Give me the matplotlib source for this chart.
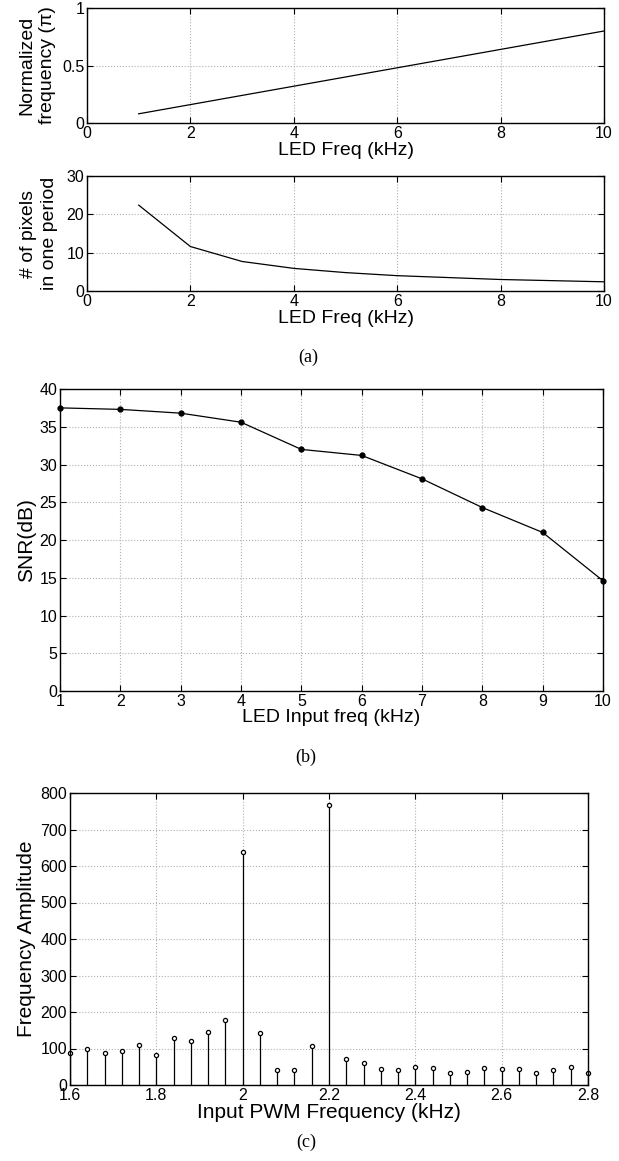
import numpy as np
import matplotlib
matplotlib.use('Agg')
import matplotlib.pyplot as plt

plt.rcParams['font.family'] = ['Liberation Sans', 'DejaVu Sans']

# (a) top: normalized frequency and pixels per period vs LED freq
led_khz = [1, 2, 3, 4, 5, 6, 7, 8, 9, 10]
norm_freq = [0.08, 0.16, 0.24, 0.32, 0.40, 0.48, 0.56, 0.64, 0.72, 0.80]
pixels_period = [22.4, 11.6, 7.7, 5.9, 4.8, 4.0, 3.5, 3.0, 2.7, 2.4]

# (b) SNR vs LED input freq
snr_khz = [1, 2, 3, 4, 5, 6, 7, 8, 9, 10]
snr_db = [37.5, 37.3, 36.8, 35.6, 32.0, 31.2, 28.1, 24.3, 21.0, 14.6]

# (c) frequency amplitude spectrum
pwm_khz = [1.60, 1.64, 1.68, 1.72, 1.76, 1.80, 1.84, 1.88, 1.92, 1.96,
           2.00, 2.04, 2.08, 2.12, 2.16, 2.20, 2.24, 2.28, 2.32, 2.36,
           2.40, 2.44, 2.48, 2.52, 2.56, 2.60, 2.64, 2.68, 2.72, 2.76, 2.80]
amplitude = [88, 99, 87, 92, 109, 81, 128, 121, 145, 179,
             638, 142, 42, 42, 108, 767, 72, 60, 44, 42,
             50, 47, 34, 36, 46, 44, 45, 32, 41, 48, 34]

W, H = 619, 1161
fig = plt.figure(figsize=(W / 100, H / 100), dpi=100)


def box(l, t, r, b):
    return fig.add_axes([l / W, 1 - b / H, (r - l) / W, (b - t) / H])


def matlab_style(ax, fs):
    ax.tick_params(direction='in', top=True, right=True, length=4,
                   labelsize=fs, pad=2, width=0.8)
    ax.grid(True, linestyle=':', color='#b0b0b0', linewidth=0.8)
    for s in ax.spines.values():
        s.set_linewidth(1.0)


ax1 = box(87, 8, 604, 123)
ax1.plot(led_khz, norm_freq, color='k', linewidth=0.9)
ax1.set_xlim(0, 10)
ax1.set_ylim(0, 1)
ax1.set_xticks([0, 2, 4, 6, 8, 10])
ax1.set_yticks([0, 0.5, 1])
ax1.set_yticklabels(['0', '0.5', '1'])
matlab_style(ax1, 11.5)
ax1.set_xlabel('LED Freq (kHz)', fontsize=14, labelpad=1)
ax1.set_ylabel('Normalized\nfrequency (\u03c0)', fontsize=14,
               linespacing=1.3)
ax1.yaxis.set_label_coords((56 - 87) / 517, 0.5)

ax2 = box(87, 176, 604, 291)
ax2.plot(led_khz, pixels_period, color='k', linewidth=0.9)
ax2.set_xlim(0, 10)
ax2.set_ylim(0, 30)
ax2.set_xticks([0, 2, 4, 6, 8, 10])
ax2.set_yticks([0, 10, 20, 30])
matlab_style(ax2, 11.5)
ax2.set_xlabel('LED Freq (kHz)', fontsize=14, labelpad=1)
ax2.set_ylabel('# of pixels\nin one period', fontsize=14,
               linespacing=1.3)
ax2.yaxis.set_label_coords((58 - 87) / 517, 0.5)

fig.text(308 / W, 1 - 357 / H, '(a)', ha='center', va='center',
         fontsize=13, family='Liberation Serif')

ax3 = box(60, 389, 603, 691)
ax3.plot(snr_khz, snr_db, color='k', linewidth=0.9, marker='o',
         markersize=3.5, clip_on=False)
ax3.set_xlim(1, 10)
ax3.set_ylim(0, 40)
ax3.set_xticks(range(1, 11))
ax3.set_yticks(range(0, 41, 5))
matlab_style(ax3, 11.5)
ax3.set_xlabel('LED Input freq (kHz)', fontsize=14, labelpad=0)
ax3.set_ylabel('SNR(dB)', fontsize=15)
ax3.yaxis.set_label_coords((36 - 60) / 543, 0.5)

fig.text(306 / W, 1 - 757 / H, '(b)', ha='center', va='center',
         fontsize=13, family='Liberation Serif')

ax4 = box(70, 793, 588, 1085)
markerline, stemlines, baseline = ax4.stem(pwm_khz, amplitude, linefmt='k-',
                                           markerfmt='o', basefmt=' ')
plt.setp(stemlines, linewidth=0.9)
plt.setp(markerline, markersize=3, markerfacecolor='white',
         markeredgecolor='k', markeredgewidth=0.9, clip_on=False)
ax4.set_xlim(1.6, 2.8)
ax4.set_ylim(0, 800)
ax4.set_xticks([1.6, 1.8, 2.0, 2.2, 2.4, 2.6, 2.8])
ax4.set_xticklabels(['1.6', '1.8', '2', '2.2', '2.4', '2.6', '2.8'])
ax4.set_yticks(range(0, 801, 100))
matlab_style(ax4, 11.5)
ax4.set_xlabel('Input PWM Frequency (kHz)', fontsize=15, labelpad=0)
ax4.set_ylabel('Frequency Amplitude', fontsize=15)
ax4.yaxis.set_label_coords((36 - 70) / 518, 0.5)

fig.text(306 / W, 1 - 1142 / H, '(c)', ha='center', va='center',
         fontsize=13, family='Liberation Serif')

plt.savefig('out.png', dpi=100)
